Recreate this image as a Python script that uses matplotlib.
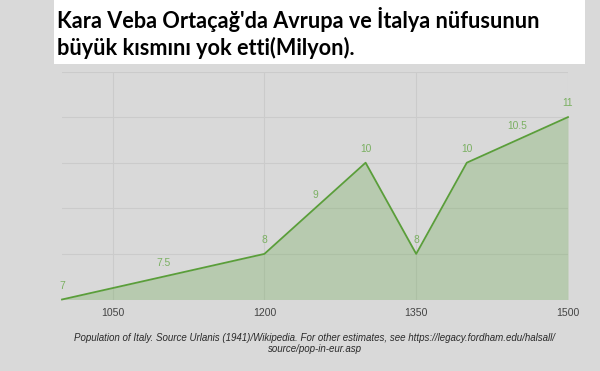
import matplotlib
matplotlib.use("Agg")
import matplotlib.pyplot as plt

years = [1000, 1100, 1200, 1250, 1300, 1350, 1400, 1450, 1500]
population = [7, 7.5, 8, 9, 10, 8, 10, 10.5, 11]
point_labels = ["7", "7.5", "8", "9", "10", "8", "10", "10.5", "11"]
xtick_values = [1050, 1200, 1350, 1500]

title_text = "Kara Veba Ortaçağ'da Avrupa ve İtalya nüfusunun\nbüyük kısmını yok etti(Milyon)."
caption_text = ("Population of Italy. Source Urlanis (1941)/Wikipedia. For other estimates, see https://legacy.fordham.edu/halsall/\n"
                "source/pop-in-eur.asp")

BG = "#d9d9d9"
fig = plt.figure(figsize=(6, 3.71), dpi=100, facecolor=BG)
ax = fig.add_axes([62/600, 1-299.5/371, (568-62)/600, (299.5-71.5)/371])
ax.set_facecolor(BG)
ax.set_xlim(1000, 1500)
ax.set_ylim(7, 12)

ax.set_xticks(xtick_values)
ax.set_xticklabels([str(v) for v in xtick_values])
ax.set_yticks([8, 9, 10, 11, 12])
ax.set_yticklabels([])
ax.tick_params(axis='both', length=0, pad=6, labelsize=7.6, labelcolor="#444444")
for lbl in ax.get_xticklabels():
    lbl.set_fontfamily("Liberation Sans")
ax.grid(True, color="#cbcbcb", linewidth=0.8, zorder=0)
ax.set_axisbelow(True)
for s in ax.spines.values():
    s.set_visible(False)

ax.fill_between(years, population, 7, color="#6aa84f", alpha=0.3, linewidth=0, zorder=2)
ax.plot(years, population, color="#5a9e3a", linewidth=1.3, zorder=3, clip_on=False)

for x, y, t in zip(years, population, point_labels):
    ax.annotate(t, (x, y), xytext=(0, 9.8), textcoords="offset points",
                ha="center", va="center", fontsize=7.4, color="#7bb062",
                family="Liberation Sans", zorder=4, annotation_clip=False)

# white title box
fig.patches.append(matplotlib.patches.Rectangle((54/600, 1-64/371), (585-54)/600, 64/371,
                                                transform=fig.transFigure, facecolor="white",
                                                edgecolor="none", zorder=0))
fig.text(57/600, 1-7/371, title_text, ha="left", va="top", fontsize=15.6,
         fontweight="bold", family="Lato", color="black", linespacing=1.25)

fig.text(315/600, 1-343.5/371, caption_text, ha="center", va="center", fontsize=7.05,
         style="italic", family="Liberation Sans", color="#2a2a2a", linespacing=1.22)

fig.savefig("out.png", dpi=100, facecolor=BG)
